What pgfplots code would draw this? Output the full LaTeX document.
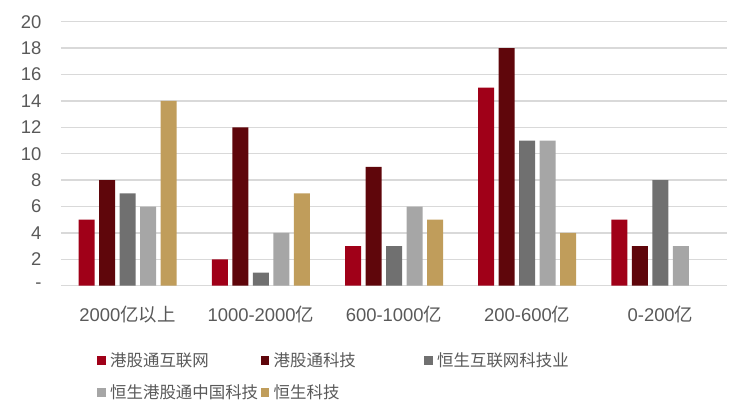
\documentclass[border=0pt]{standalone}
\usepackage{fontspec}
\setmainfont{Liberation Sans}
\newfontfamily\cjk{Noto Sans CJK SC}
\usepackage{pgfplots}
\pgfplotsset{compat=1.18}

\definecolor{cA}{HTML}{A00018}
\definecolor{cB}{HTML}{5F060B}
\definecolor{cC}{HTML}{707070}
\definecolor{cD}{HTML}{A6A6A6}
\definecolor{cE}{HTML}{C09D5B}
\definecolor{txt}{HTML}{595959}
\definecolor{grd}{HTML}{D9D9D9}

\newcommand{\legtxt}[1]{\makebox[155bp][l]{\hspace{4.5bp}#1}}

\begin{document}
\begin{tikzpicture}
\path[use as bounding box] (-61bp,-133.3bp) rectangle (689bp,285.7bp);
\begin{axis}[
  at={(0,0)}, anchor=south west,
  scale only axis, width=666bp, height=264bp,
  ybar=4.5bp, bar width=16bp,
  xmin=-0.5, xmax=4.5, ymin=0, ymax=20,
  xtick={0,1,2,3,4},
  xticklabels={{2000{\cjk 亿以上}},{1000-2000{\cjk 亿}},{600-1000{\cjk 亿}},{200-600{\cjk 亿}},{0-200{\cjk 亿}}},
  ytick={0,2,...,20},
  yticklabels={-,2,4,6,8,10,12,14,16,18,20},
  /pgf/number format/assume math mode=true,
  tick label style={font=\fontsize{18.5}{20}\selectfont, text=txt},
  yticklabel style={xshift=-16bp},
  xticklabel style={yshift=-12.5bp},
  axis line style={draw=none},
  tick style={draw=none},
  ymajorgrids, major grid style={draw=grd, line width=1.3bp},
  legend columns=3,
  legend style={draw=none, fill=none, at={(0.0541,-0.261)}, anchor=north west,
    inner sep=0pt, column sep=0pt, row sep=17bp,
    nodes={inner sep=0pt, anchor=base west, text=txt, font=\fontsize{16.5}{18}\cjk, text height=12bp, text depth=3bp}},
  legend image code/.code={\fill[#1,draw=none] (0bp,2bp) rectangle (8.5bp,10.5bp);},
]
\addplot[fill=cA, draw=none] coordinates {(0,5) (1,2) (2,3) (3,15) (4,5)};
\addlegendentry{\legtxt{港股通互联网}}
\addplot[fill=cB, draw=none] coordinates {(0,8) (1,12) (2,9) (3,18) (4,3)};
\addlegendentry{\legtxt{港股通科技}}
\addplot[fill=cC, draw=none] coordinates {(0,7) (1,1) (2,3) (3,11) (4,8)};
\addlegendentry{\legtxt{恒生互联网科技业}}
\addplot[fill=cD, draw=none] coordinates {(0,6) (1,4) (2,6) (3,11) (4,3)};
\addlegendentry{\legtxt{恒生港股通中国科技}}
\addplot[fill=cE, draw=none] coordinates {(0,14) (1,7) (2,5) (3,4)};
\addlegendentry{\legtxt{恒生科技}}
\end{axis}
\end{tikzpicture}
\end{document}
